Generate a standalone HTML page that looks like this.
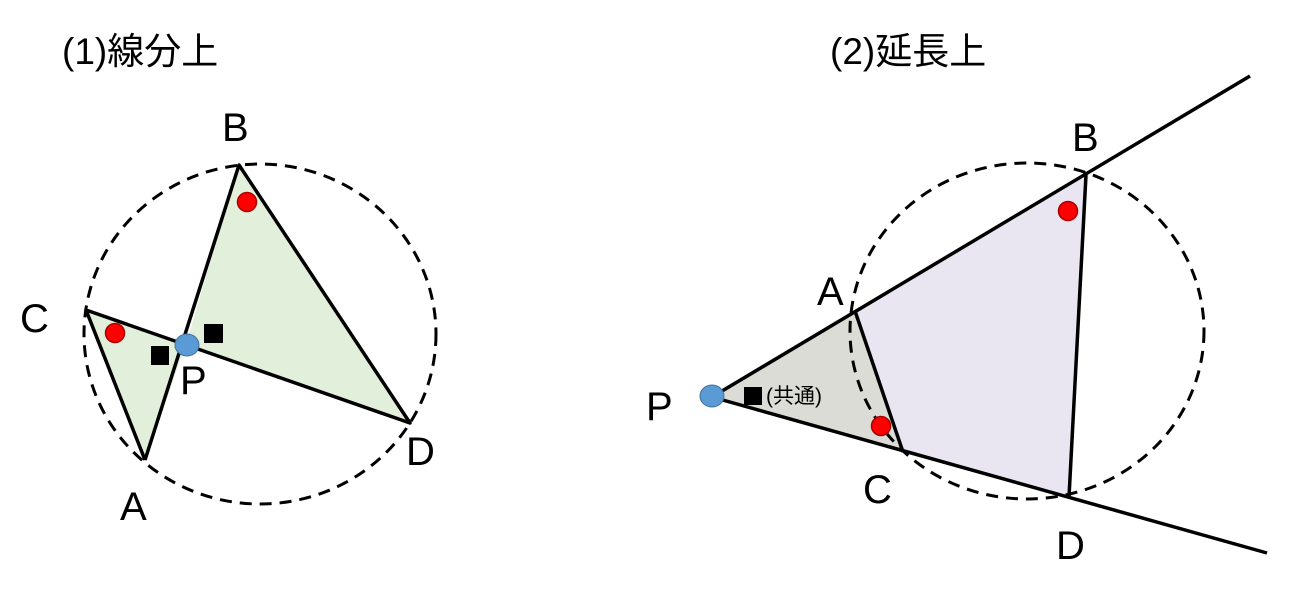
<!DOCTYPE html>
<html><head><meta charset="utf-8"><style>
html,body{margin:0;padding:0;background:#fff;width:1310px;height:596px;overflow:hidden}
svg{display:block}
text{font-family:"Liberation Sans","Noto Sans CJK JP",sans-serif;fill:#000}
</style></head><body>
<svg width="1310" height="596" viewBox="0 0 1310 596">
<text x="62" y="64" font-size="37">(1)線分上</text>
<text x="830" y="64" font-size="37">(2)延長上</text>
<!-- left -->
<polygon points="239,165 410,423 186,344" fill="#e2efda"/>
<polygon points="86,310 186,344 145,460" fill="#e2efda"/>
<ellipse cx="260" cy="334" rx="176" ry="170" fill="none" stroke="#000" stroke-width="3" stroke-dasharray="12,8"/>
<polyline points="145,460 239,165 410,423 86,310 145,460" fill="none" stroke="#000" stroke-width="3.5" stroke-linejoin="round"/>
<circle cx="247" cy="202" r="9.5" fill="#f00" stroke="#a00" stroke-width="1.5"/>
<circle cx="115" cy="333" r="9.5" fill="#f00" stroke="#a00" stroke-width="1.5"/>
<rect x="151" y="346" width="18" height="19" fill="#000"/>
<rect x="204" y="324" width="19" height="19" fill="#000"/>
<ellipse cx="187" cy="345" rx="12" ry="11" fill="#5b9bd5" stroke="#41719c"/>
<text x="222" y="141" font-size="40">B</text>
<text x="20" y="332" font-size="40">C</text>
<text x="180" y="394" font-size="40">P</text>
<text x="120" y="520" font-size="40">A</text>
<text x="406" y="465" font-size="40">D</text>
<!-- right -->
<polygon points="855,311 1086,175 1069,497 903,452" fill="#e9e5f1"/>
<polygon points="712,397 855,311 903,452" fill="#dcdcd6"/>
<ellipse cx="1027" cy="331" rx="177" ry="168" fill="none" stroke="#000" stroke-width="3" stroke-dasharray="12,8"/>
<line x1="712" y1="397" x2="1250" y2="76" stroke="#000" stroke-width="3.5"/>
<line x1="712" y1="397" x2="1267" y2="553" stroke="#000" stroke-width="3.5"/>
<line x1="855" y1="311" x2="903" y2="452" stroke="#000" stroke-width="3.5"/>
<line x1="1086" y1="175" x2="1069" y2="497" stroke="#000" stroke-width="3.5"/>
<circle cx="1068" cy="211" r="9.5" fill="#f00" stroke="#a00" stroke-width="1.5"/>
<circle cx="881" cy="426" r="9.5" fill="#f00" stroke="#a00" stroke-width="1.5"/>
<rect x="744" y="387" width="18" height="18" fill="#000"/>
<text x="766" y="403" font-size="21">(共通)</text>
<ellipse cx="712" cy="396" rx="12" ry="11" fill="#5b9bd5" stroke="#41719c"/>
<text x="1072" y="151" font-size="40">B</text>
<text x="817" y="305" font-size="40">A</text>
<text x="646" y="420" font-size="40">P</text>
<text x="863" y="503" font-size="40">C</text>
<text x="1056" y="559" font-size="40">D</text>
</svg>
</body></html>
